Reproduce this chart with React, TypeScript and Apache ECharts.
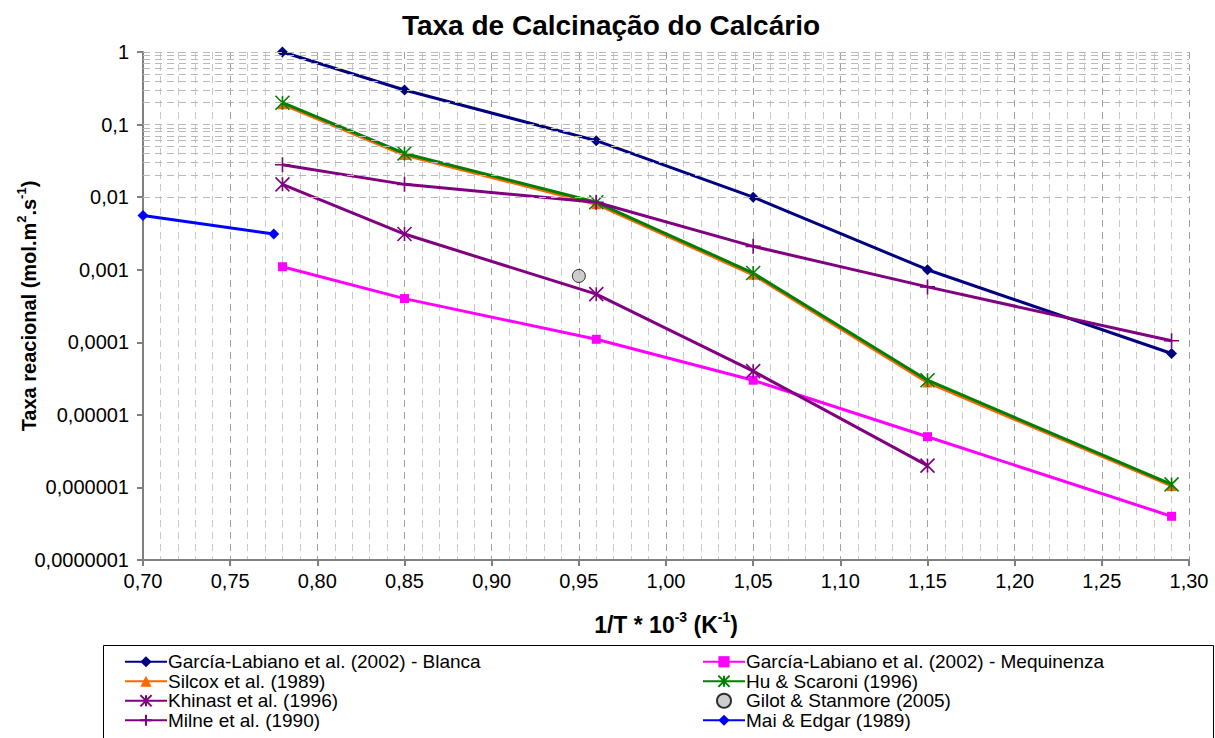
import React, { useEffect, useRef } from "react";
import * as echarts from "echarts";

const FONT = '"Liberation Sans", Arial, sans-serif';

const xMain = [0.78, 0.85, 0.96, 1.05, 1.15, 1.29];
const yBlanca = [1, 0.3, 0.06, 0.01, 0.001, 0.00007];
const yMequinenza = [0.0011, 0.0004, 0.00011, 0.00003, 0.000005, 0.0000004];
const ySilcox = [0.19, 0.038, 0.008, 0.00085, 0.000028, 0.00000105];
const yHu = [0.2, 0.04, 0.0085, 0.0009, 0.00003, 0.0000011];
const xKhinast = [0.78, 0.85, 0.96, 1.05, 1.15];
const yKhinast = [0.015, 0.0031, 0.00046, 0.00004, 0.000002];
const xGilot = [0.95];
const yGilot = [0.00082];
const yMilne = [0.028, 0.015, 0.0085, 0.0021, 0.00058, 0.000105];
const xMai = [0.7, 0.775];
const yMai = [0.0056, 0.0031];

const names = {
  blanca: "García-Labiano et al. (2002) - Blanca",
  mequinenza: "García-Labiano et al. (2002) - Mequinenza",
  silcox: "Silcox et al. (1989)",
  hu: "Hu & Scaroni (1996)",
  khinast: "Khinast et al. (1996)",
  gilot: "Gilot & Stanmore (2005)",
  milne: "Milne et al. (1990)",
  mai: "Mai & Edgar (1989)",
};

const decades = [-7, -6, -5, -4, -3, -2, -1];
const multipliers = [1, 2, 3, 4, 5, 6, 7, 8, 9];

const zip = (xs: number[], ys: number[]) => xs.map((x, i) => [x, ys[i]]);

const STAR = "path://M0,0L14,14M14,0L0,14M7,0L7,14";
const PLUS = "path://M7,0L7,14M0,7L14,7";

function fmtY(v: number) {
  const e = Math.round(Math.log10(v));
  if (e >= 0) return String(Math.round(v));
  return "0," + "0".repeat(-e - 1) + "1";
}

export default function App() {
  const ref = useRef<HTMLDivElement>(null);
  useEffect(() => {
    document.body.style.margin = "0";
    const chart = echarts.init(ref.current!, undefined, { renderer: "svg" });
    const gridLines: any[] = [];
    decades.forEach((d) =>
      multipliers.forEach((m) => gridLines.push({ yAxis: m * Math.pow(10, d) }))
    );
    gridLines.push({ yAxis: 1 });

    const lineSeries = (
      name: string,
      xs: number[],
      ys: number[],
      color: string,
      symbol: string,
      size: number,
      stroke = false
    ) => ({
      name,
      type: "line",
      data: zip(xs, ys),
      symbol,
      symbolSize: size,
      showAllSymbol: true,
      lineStyle: { color, width: 3 },
      itemStyle: stroke
        ? { color: "rgba(0,0,0,0)", borderColor: color, borderWidth: 1.6 }
        : { color, borderColor: color, borderWidth: 0 },
      emphasis: { disabled: true },
      z: 3,
    });

    const legendBase = {
      orient: "vertical",
      top: 652,
      padding: 0,
      itemWidth: 42,
      itemHeight: 14,
      itemGap: 0,
      height: 90,
      selectedMode: false,
      lineStyle: { width: 2 },
      textStyle: { fontFamily: FONT, fontSize: 19, color: "#000", lineHeight: 19.5, padding: [0, 0, 0, -4] },
    };

    const option: any = {
      animation: false,
      backgroundColor: "#ffffff",
      textStyle: { fontFamily: FONT },
      title: {
        text: "Taxa de Calcinação do Calcário",
        left: 606,
        textAlign: "center",
        top: 6,
        textStyle: { fontFamily: FONT, fontWeight: "bold", fontSize: 28, color: "#000" },
      },
      grid: {
        left: 143,
        right: 26,
        top: 52,
        bottom: 178,
        containLabel: false,
        outerBoundsMode: "none",
      },
      xAxis: {
        type: "value",
        min: 0.7,
        max: 1.3,
        interval: 0.05,
        name: "{b|1/T * 10}{s|-3}{b| (K}{s|-1}{b|)}",
        nameLocation: "middle",
        nameGap: 50,
        nameMoveOverlap: false,
        nameTextStyle: {
          rich: {
            b: { fontFamily: FONT, fontSize: 23, fontWeight: "bold", color: "#000", lineHeight: 30 },
            s: { fontFamily: FONT, fontSize: 14, fontWeight: "bold", color: "#000", verticalAlign: "top", lineHeight: 16 },
          },
        },
        axisLine: { show: true, onZero: false, lineStyle: { color: "#808080", width: 2 } },
        axisTick: { show: true, inside: false, length: 6, lineStyle: { color: "#808080", width: 2 } },
        axisLabel: {
          fontFamily: FONT,
          fontSize: 20,
          color: "#000",
          margin: 11,
          formatter: (v: number) => v.toFixed(2).replace(".", ","),
        },
        splitLine: { show: true, lineStyle: { color: "#a0a0a0", type: [7, 5], width: 1 } },
        minorTick: { show: false, splitNumber: 5 },
        minorSplitLine: { show: true, lineStyle: { color: "#c8c8c8", type: [7, 5], width: 1 } },
      },
      yAxis: {
        type: "log",
        logBase: 10,
        min: 1e-7,
        max: 1,
        splitNumber: 7,
        name: "{b|Taxa reacional (mol.m}{s|2}{b|.s}{s|-1}{b|)}",
        nameLocation: "middle",
        nameGap: 100,
        nameRotate: 90,
        nameMoveOverlap: false,
        nameTextStyle: {
          rich: {
            b: { fontFamily: FONT, fontSize: 20, fontWeight: "bold", color: "#000", lineHeight: 28 },
            s: { fontFamily: FONT, fontSize: 13, fontWeight: "bold", color: "#000", verticalAlign: "top", lineHeight: 15 },
          },
        },
        axisLine: { show: true, lineStyle: { color: "#808080", width: 2 } },
        axisTick: { show: true, inside: false, length: 6, lineStyle: { color: "#808080", width: 2 } },
        axisLabel: { fontFamily: FONT, fontSize: 20, color: "#000", margin: 14, formatter: fmtY },
        splitLine: { show: false },
      },
      legend: [
        {
          ...legendBase,
          left: 124,
          data: [names.blanca, names.silcox, names.khinast, names.milne],
        },
        {
          ...legendBase,
          left: 702,
          data: [names.mequinenza, names.hu, names.gilot, names.mai],
        },
      ],
      graphic: [
        {
          type: "rect",
          shape: { x: 103.5, y: 645.5, width: 1110, height: 100 },
          style: { fill: "#fff", stroke: "#000", lineWidth: 1 },
          z: -1,
          silent: true,
        },
      ],
      series: [
        {
          name: "grid",
          type: "line",
          data: [],
          z: 1,
          silent: true,
          markLine: {
            silent: true,
            symbol: ["none", "none"],
            label: { show: false },
            lineStyle: { color: "#b8b8b8", type: [7, 5], width: 1 },
            emphasis: { disabled: true },
            data: gridLines,
          },
        },
        lineSeries(names.blanca, xMain, yBlanca, "#000080", "diamond", 11),
        lineSeries(names.mequinenza, xMain, yMequinenza, "#FF00FF", "rect", 9),
        lineSeries(names.silcox, xMain, ySilcox, "#FF6600", "triangle", 10),
        lineSeries(names.hu, xMain, yHu, "#008000", STAR, 14, true),
        lineSeries(names.khinast, xKhinast, yKhinast, "#800080", STAR, 14, true),
        {
          name: names.gilot,
          type: "scatter",
          data: zip(xGilot, yGilot),
          symbol: "circle",
          symbolSize: 13,
          itemStyle: { color: "#C0C0C0", borderColor: "#000", borderWidth: 1 },
          emphasis: { disabled: true },
          z: 3,
        },
        lineSeries(names.milne, xMain, yMilne, "#800080", PLUS, 15, true),
        lineSeries(names.mai, xMai, yMai, "#0000FF", "diamond", 11),
      ],
    };
    chart.setOption(option);
    return () => chart.dispose();
  }, []);
  return (
    <div
      ref={ref}
      style={{ position: "absolute", left: 0, top: 0, width: 1215, height: 738 }}
    />
  );
}
